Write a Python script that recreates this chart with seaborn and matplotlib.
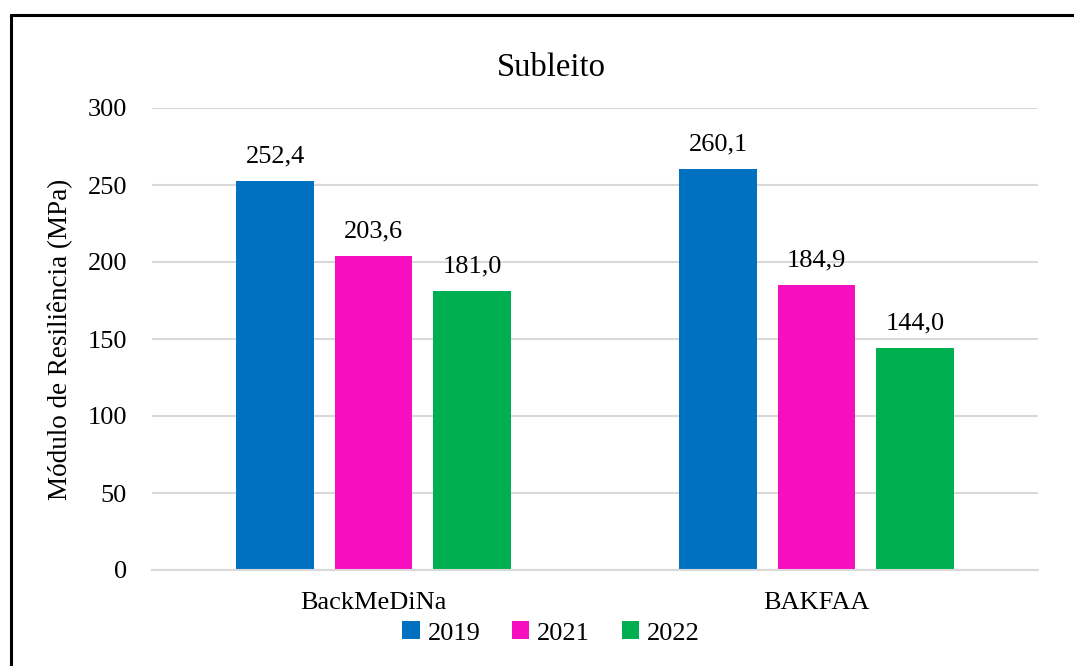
import pandas as pd
import matplotlib.pyplot as plt
import seaborn as sns
from matplotlib.lines import Line2D

# data
metodos = ["BackMeDiNa", "BAKFAA"]
anos = ["2019", "2021", "2022"]
valores_2019 = [252.4, 260.1]
valores_2021 = [203.6, 184.9]
valores_2022 = [181.0, 144.0]
cores = {"2019": "#0070C0", "2021": "#F70EBF", "2022": "#00B050"}

df = pd.DataFrame({
    "metodo": metodos * 3,
    "ano": ["2019"] * 2 + ["2021"] * 2 + ["2022"] * 2,
    "mr": valores_2019 + valores_2021 + valores_2022,
})

sns.set_theme(style="white", rc={"text.color": "black", "axes.labelcolor": "black",
                                 "xtick.color": "black", "ytick.color": "black"})
plt.rcParams["font.family"] = ["Liberation Serif", "DejaVu Serif"]

fig = plt.figure(figsize=(10.74, 6.66), dpi=100)
ax = fig.add_axes([152 / 1074, 1 - 570 / 666, (1038 - 152) / 1074, (570 - 108) / 666])

sns.barplot(data=df, x="metodo", y="mr", hue="ano", hue_order=anos, palette=cores,
            width=0.667, gap=0.21, saturation=1, linewidth=0, ax=ax)

for cont in ax.containers:
    ax.bar_label(cont, labels=[f"{v:.1f}".replace(".", ",") for v in cont.datavalues],
                 padding=10, fontsize=19, color="black")

ax.set_ylim(0, 300)
ax.set_yticks(range(0, 301, 50))
ax.yaxis.grid(True, color="#D9D9D9", linewidth=1.5)
ax.set_axisbelow(True)
for s in ["top", "right", "left"]:
    ax.spines[s].set_visible(False)
ax.spines["bottom"].set_color("#D9D9D9")
ax.spines["bottom"].set_linewidth(1.5)
ax.tick_params(axis="y", length=0, pad=18, labelsize=19)
ax.tick_params(axis="x", length=0, pad=16, labelsize=19)
ax.set_xlabel("")
ax.set_ylabel("Módulo de Resiliência (MPa)", fontsize=19.5, labelpad=10)

ax.legend_.remove()
fig.legend(*ax.get_legend_handles_labels(), loc="center", bbox_to_anchor=(551 / 1074, 1 - 633 / 666),
           ncol=3, frameon=False, fontsize=19, handlelength=0.65, handleheight=0.65,
           handletextpad=0.3, columnspacing=1.2)

fig.text(551 / 1074, 1 - 68 / 666, "Subleito", ha="center", va="center", fontsize=23.5)

# chart area border (left and top edges visible)
fig.add_artist(Line2D([10.5 / 1074, 10.5 / 1074], [0, 1 - 15 / 666], color="black", linewidth=2.2))
fig.add_artist(Line2D([10.5 / 1074, 1], [1 - 15 / 666, 1 - 15 / 666], color="black", linewidth=2.2))

fig.savefig("out.png", dpi=100)
